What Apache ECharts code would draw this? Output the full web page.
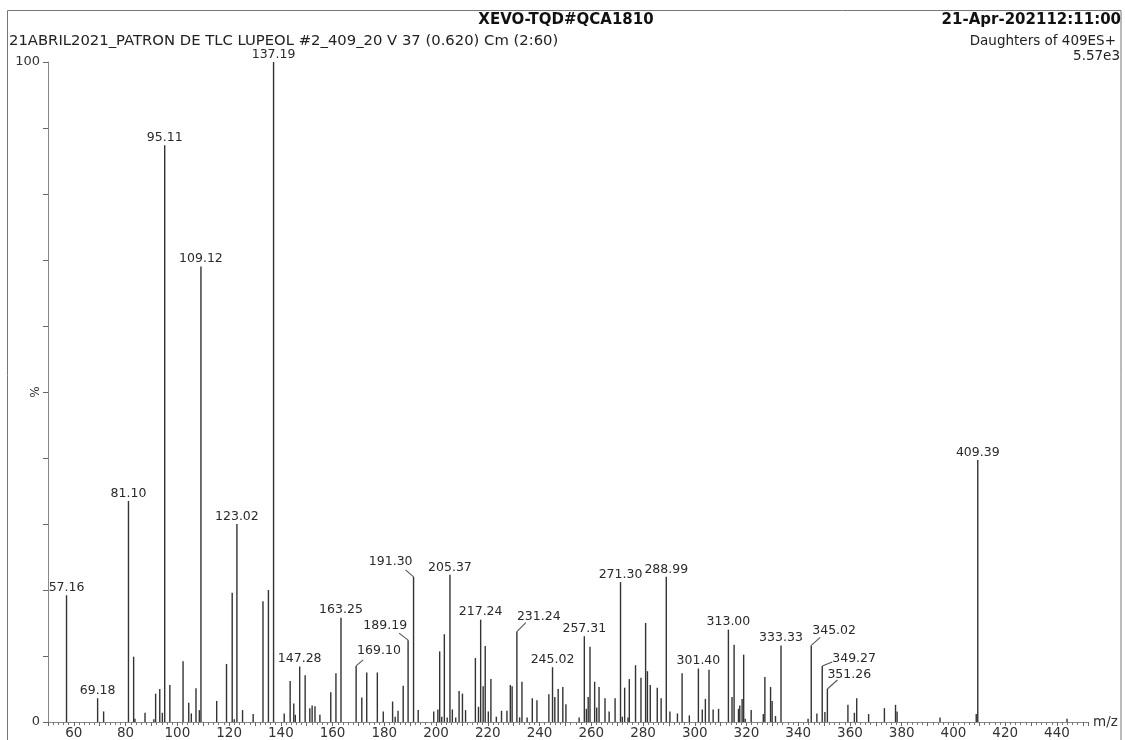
<!DOCTYPE html>
<html>
<head>
<meta charset="utf-8">
<script src="https://cdn.jsdelivr.net/npm/echarts@6/dist/echarts.min.js"></script>
<style>
html,body{margin:0;padding:0;background:#fff;}
#chart{width:1125px;height:740px;}
</style>
</head>
<body>
<div id="chart"></div>
<script>
// ---- Data ----
const labeledMz  = [57.16, 69.18, 81.10, 95.11, 109.12, 123.02, 137.19, 147.28, 163.25, 169.10, 189.19, 191.30, 205.37,
                    217.24, 231.24, 245.02, 257.31, 271.30, 288.99, 301.40, 313.00, 333.33, 345.02, 349.27, 351.26, 409.39];
const labeledPct = [19.2, 3.6, 33.5, 87.4, 69.0, 30.0, 100, 8.4, 15.8, 8.5, 12.4, 22.0, 22.3,
                    15.5, 13.7, 8.3, 13.0, 21.2, 22.0, 8.1, 14.0, 11.6, 11.6, 8.5, 5.0, 39.7];

const minorMz  = [71.5, 83.1, 83.6, 87.5, 90.9, 91.6, 93.2, 94.2, 97.1, 102.2, 104.4, 105.4, 107.2, 108.5,
                  115.2, 119.0, 121.2, 122.0, 125.2, 129.3, 133.1, 135.2, 141.3, 143.6, 145.0, 145.6, 149.4,
                  151.2, 152.1, 153.2, 155.1, 159.3, 161.3, 171.3, 173.2, 177.3, 179.6, 183.2, 184.2, 185.3,
                  187.3, 193.1, 199.1, 200.7, 201.4, 202.2, 203.2, 204.3, 206.3, 207.6, 208.9, 210.2, 211.4,
                  215.2, 216.4, 218.2, 219.0, 220.2, 221.2, 223.3, 225.3, 227.4, 228.7, 229.4, 232.3, 233.2,
                  235.2, 237.2, 239.0, 243.6, 245.9, 247.2, 249.0, 250.2, 255.3, 258.1, 258.8, 259.5, 261.3,
                  262.1, 263.0, 265.3, 266.9, 269.2, 272.0, 272.9, 274.2, 274.7, 277.1, 279.2, 281.0, 281.7,
                  282.8, 285.5, 287.0, 290.4, 293.3, 295.1, 297.9, 302.9, 304.1, 305.5, 307.1, 309.2, 314.4,
                  315.2, 316.9, 317.4, 318.3, 318.9, 319.5, 321.8, 326.5, 327.1, 329.3, 329.9, 331.2, 343.8,
                  347.2, 350.3, 359.2, 361.7, 362.6, 367.2, 373.3, 377.6, 378.2, 394.8, 408.8, 443.9];
const minorPct = [1.6, 9.9, 0.5, 1.4, 0.4, 4.3, 5.0, 1.4, 5.6, 9.2, 2.9, 1.3, 5.1, 1.8,
                  3.2, 8.8, 19.6, 0.4, 1.8, 1.2, 18.3, 20.0, 1.3, 6.2, 2.8, 1.1, 7.1,
                  2.1, 2.5, 2.4, 1.1, 4.5, 7.4, 3.7, 7.5, 7.5, 1.6, 3.1, 0.8, 1.7,
                  5.5, 1.8, 1.6, 1.9, 10.7, 0.8, 13.3, 0.7, 1.9, 0.7, 4.7, 4.3, 1.8,
                  9.7, 2.3, 5.4, 11.5, 1.6, 6.5, 0.8, 1.7, 1.7, 5.6, 5.4, 0.7, 6.1,
                  0.7, 3.6, 3.3, 4.2, 3.8, 5.0, 5.3, 2.7, 0.7, 2.0, 3.8, 11.4, 6.1,
                  2.2, 5.3, 3.6, 1.6, 3.6, 0.8, 5.2, 0.7, 6.5, 8.6, 6.7, 15.0, 7.7,
                  5.6, 5.2, 3.6, 1.6, 1.3, 7.4, 1.0, 1.9, 3.5, 7.9, 1.9, 2.0, 3.8,
                  11.7, 2.0, 2.5, 3.5, 10.2, 0.5, 1.8, 1.2, 6.8, 5.3, 3.2, 0.9, 0.5,
                  1.3, 1.5, 2.6, 1.4, 3.6, 1.2, 2.1, 2.6, 1.6, 0.7, 1.2, 0.5];

const xLabelEvery = 20;
const yLabelValues = [0, 100];

// ---- Styles / layout for callout labels (offsets from peak top, px) ----
const calloutStyle = {
  '169.10': {leader: [7, -6],  text: [1, -14.7], align: 'left'},
  '189.19': {leader: [-9, -7], text: [-1, -14],  align: 'right'},
  '191.30': {leader: [-8, -7], text: [-1, -15],  align: 'right'},
  '231.24': {leader: [9, -9],  text: [0, -15],   align: 'left'},
  '345.02': {leader: [9, -8],  text: [1, -14.7], align: 'left'},
  '349.27': {leader: [10, -4], text: [10, -7.4], align: 'left'},
  '351.26': {leader: [10, -9], text: [0, -14.3], align: 'left'}
};

const FONT = '"DejaVu Sans", "Liberation Sans", sans-serif';
const LINE_COLOR = '#333';

function stick(api) {
  const p0 = api.coord([api.value(0), 0]);
  const p1 = api.coord([api.value(0), api.value(1)]);
  return {type: 'line', shape: {x1: p0[0], y1: p0[1], x2: p1[0], y2: p1[1]},
          style: {stroke: LINE_COLOR, lineWidth: 1.4}};
}

function renderMinor(params, api) {
  return stick(api);
}

function renderLabeled(params, api) {
  const mz = api.value(0), pct = api.value(1);
  const top = api.coord([mz, pct]);
  const txt = mz.toFixed(2);
  const cs = calloutStyle[txt];
  const children = [stick(api)];
  let tx = top[0], ty = top[1] - 7.5, align = 'center';
  if (cs) {
    children.push({type: 'line',
      shape: {x1: top[0], y1: top[1], x2: top[0] + cs.leader[0], y2: top[1] + cs.leader[1]},
      style: {stroke: '#555', lineWidth: 1.1}});
    tx = top[0] + cs.text[0]; ty = top[1] + cs.text[1]; align = cs.align;
  }
  children.push({type: 'text', style: {x: tx, y: ty, text: txt, align: align, verticalAlign: 'middle',
    fontFamily: FONT, fontSize: 12.5, fill: '#2a2a2a'}});
  return {type: 'group', children: children};
}

const chart = echarts.init(document.getElementById('chart'));
chart.setOption({
  animation: false,
  backgroundColor: '#fff',
  grid: {left: 48, right: 37, top: 62, bottom: 18, containLabel: false, outerBoundsMode: 'none'},
  xAxis: {
    type: 'value', min: 50, max: 452, interval: 10,
    name: 'm/z', nameLocation: 'end', nameGap: 5, nameMoveOverlap: false,
    nameTextStyle: {fontFamily: FONT, fontSize: 13.5, color: '#333', verticalAlign: 'middle'},
    axisLine: {show: true, lineStyle: {color: '#888', width: 1}},
    axisTick: {show: true, length: 4, lineStyle: {color: '#666'}},
    minorTick: {show: true, splitNumber: 5, length: 3, lineStyle: {color: '#777'}},
    splitLine: {show: false},
    axisLabel: {
      fontFamily: FONT, fontSize: 13.5, color: '#333', margin: 4,
      showMaxLabel: false, showMinLabel: true,
      formatter: v => (v % xLabelEvery === 0 && v >= 60) ? String(v) : ''
    }
  },
  yAxis: {
    type: 'value', min: 0, max: 100, interval: 10,
    name: '%', nameLocation: 'middle', nameGap: 6, nameRotate: 90, nameMoveOverlap: false,
    nameTextStyle: {fontFamily: FONT, fontSize: 12, color: '#333'},
    axisLine: {show: true, lineStyle: {color: '#888', width: 1}},
    axisTick: {show: true, length: 5, lineStyle: {color: '#666'}},
    splitLine: {show: false},
    axisLabel: {
      fontFamily: FONT, fontSize: 13, color: '#333', margin: 8,
      formatter: v => yLabelValues.indexOf(v) >= 0 ? String(v) : ''
    }
  },
  graphic: [
    {type: 'rect', silent: true, z: -1,
     shape: {x: 7.5, y: 10.5, width: 1113.5, height: 800},
     style: {fill: 'none', stroke: '#777', lineWidth: 1}},
    {type: 'text', x: 566, y: 20, style: {text: 'XEVO-TQD#QCA1810', align: 'center', verticalAlign: 'middle',
      fontFamily: FONT, fontSize: 15, fontWeight: 'bold', fill: '#111'}},
    {type: 'text', x: 1121, y: 20, style: {text: '21-Apr-202112:11:00', align: 'right', verticalAlign: 'middle',
      fontFamily: FONT, fontSize: 15, fontWeight: 'bold', fill: '#111'}},
    {type: 'text', x: 9, y: 41, style: {text: '21ABRIL2021_PATRON DE TLC LUPEOL #2_409_20 V 37 (0.620) Cm (2:60)',
      align: 'left', verticalAlign: 'middle', fontFamily: FONT, fontSize: 14.8, fill: '#222'}},
    {type: 'text', x: 1116, y: 41, style: {text: 'Daughters of 409ES+', align: 'right', verticalAlign: 'middle',
      fontFamily: FONT, fontSize: 13.5, fill: '#222'}},
    {type: 'text', x: 1120, y: 56, style: {text: '5.57e3', align: 'right', verticalAlign: 'middle',
      fontFamily: FONT, fontSize: 13.5, fill: '#222'}}
  ],
  series: [
    {type: 'custom', name: 'minor', renderItem: renderMinor, clip: false,
     encode: {x: 0, y: 1},
     data: minorMz.map((m, i) => [m, minorPct[i]])},
    {type: 'custom', name: 'labeled', renderItem: renderLabeled, clip: false,
     encode: {x: 0, y: 1},
     data: labeledMz.map((m, i) => [m, labeledPct[i]])}
  ]
});
</script>
</body>
</html>
